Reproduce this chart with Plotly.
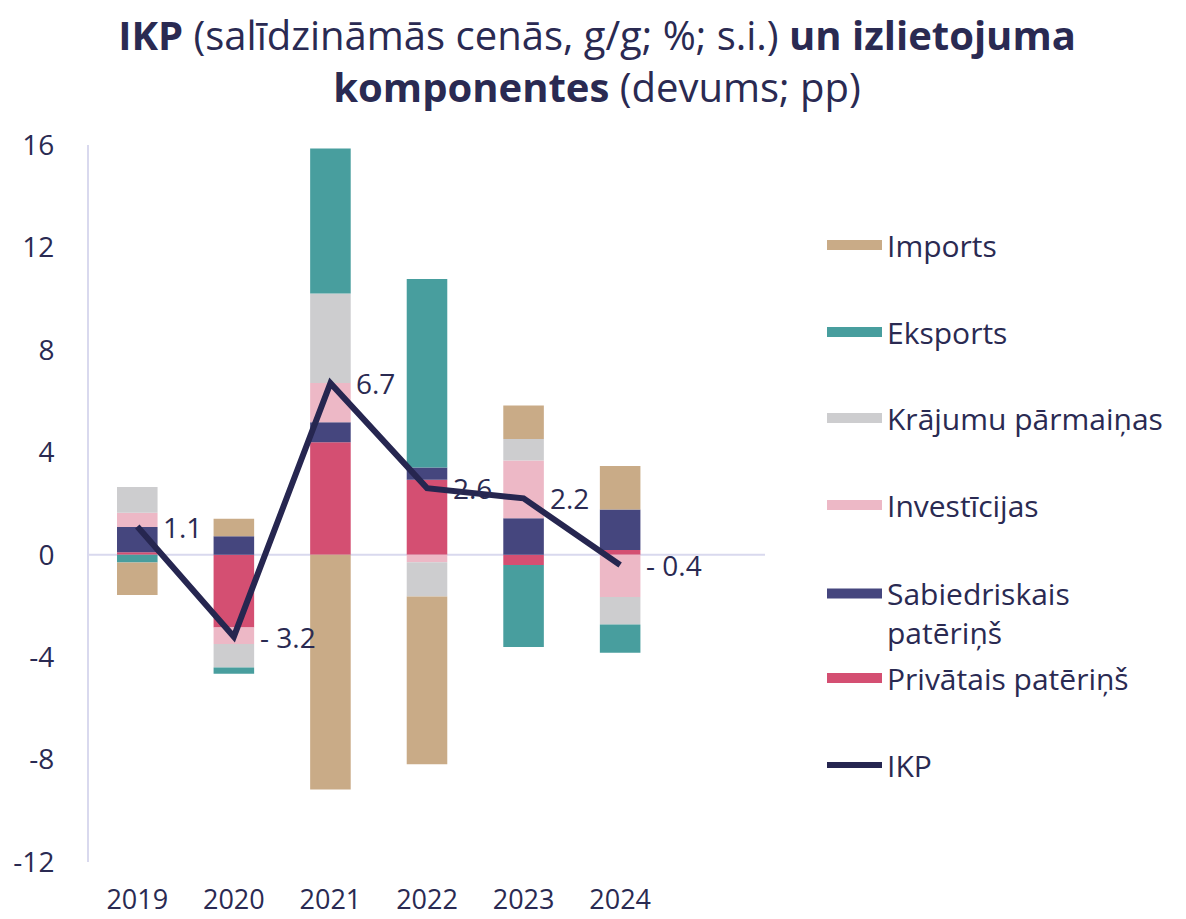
import plotly.graph_objects as go

years = [2019, 2020, 2021, 2022, 2023, 2024]
privatais = [0.1, -2.84, 4.39, 2.93, -0.4, 0.18]
sabiedriskais = [0.98, 0.72, 0.78, 0.48, 1.42, 1.59]
investicijas = [0.56, -0.65, 1.54, -0.29, 2.26, -1.65]
krajumu = [1.0, -0.91, 3.49, -1.34, 0.84, -1.08]
eksports = [-0.3, -0.25, 5.66, 7.36, -3.2, -1.1]
imports = [-1.27, 0.68, -9.17, -6.55, 1.31, 1.69]
ikp = [1.1, -3.2, 6.7, 2.6, 2.2, -0.4]
ikp_labels = ["1.1", "- 3.2", "6.7", "2.6", "2.2", "- 0.4"]

names = ["Privātais patēriņš", "Sabiedriskais<br>patēriņš", "Investīcijas",
         "Krājumu pārmaiņas", "Eksports", "Imports"]
series = [privatais, sabiedriskais, investicijas, krajumu, eksports, imports]
colors = ["#D44F72", "#45467E", "#EDB8C6", "#CDCDCF", "#489E9E", "#C9AB87"]

TXT = "#2A2A52"
FONT = "Open Sans"
W, H = 1178, 911   # page body has an 8px margin
OFF = 8

fig = go.Figure()
legend_ids = ["legend6", "legend5", "legend4", "legend3", "legend2", "legend"]
for name, vals, col in zip(names, series, colors):
    fig.add_trace(go.Bar(x=years, y=vals, name=name, marker_color=col,
                         marker_line_width=0, width=0.42, showlegend=False))

# legend proxies (wide rectangles)
for name, col, lg in zip(names, colors, legend_ids):
    fig.add_trace(go.Scatter(x=[None], y=[None], mode="lines", name=name,
                             line=dict(color=col, width=17), legend=lg,
                             showlegend=True, hoverinfo="skip"))

fig.add_trace(go.Scatter(x=years, y=ikp, mode="lines", name="IKP",
                         line=dict(color="#262650", width=6), showlegend=False))
fig.add_trace(go.Scatter(x=[None], y=[None], mode="lines", name="IKP",
                         line=dict(color="#262650", width=6), legend="legend7"))

for x, y, t in zip(years, ikp, ikp_labels):
    fig.add_annotation(x=x, y=y, text=t, showarrow=False, xanchor="left",
                       yanchor="middle", xshift=24,
                       font=dict(family=FONT, size=28, color=TXT))

leg_y = [245, 332, 418, 505, 613, 678, 765]
all_ids = ["legend", "legend2", "legend3", "legend4", "legend5", "legend6", "legend7"]
layout_legends = {}
for lg, py in zip(all_ids, leg_y):
    layout_legends[lg] = dict(x=814 / W, y=1 - (py - OFF) / H, xref="container",
                              yref="container", xanchor="left", yanchor="middle",
                              valign="top",
                              font=dict(family=FONT, size=30, color=TXT),
                              bgcolor="rgba(0,0,0,0)", itemwidth=55)

fig.update_layout(
    width=W, height=H,
    barmode="relative",
    plot_bgcolor="white", paper_bgcolor="white",
    margin=dict(l=89 - OFF, r=W - (765 - OFF), t=145 - OFF, b=H - (862 - OFF), autoexpand=False),
    font=dict(family=FONT, size=28, color=TXT),
    title=dict(text="<b>IKP</b> (salīdzināmās cenās, g/g; %; s.i.) <b>un izlietojuma</b><br><b>komponentes</b> (devums; pp)",
               x=0.5, xref="container", xanchor="center", y=1 - 42 / H, yanchor="middle",
               font=dict(family=FONT, size=40, color=TXT)),
    xaxis=dict(range=[2018.5, 2025.5], tickvals=years, ticktext=[str(y) for y in years],
               showgrid=False, zeroline=False, showline=False, ticks="", automargin=False,
               ticklabelstandoff=19, tickfont=dict(family=FONT, size=27, color=TXT)),
    yaxis=dict(range=[-12, 16], tickvals=[-12, -8, -4, 0, 4, 8, 12, 16],
               ticktext=["-12", "-8", "-4", "0", "4", "8", "12", "16"],
               showgrid=False, zeroline=False, showline=True, linecolor="#D9D9EE",
               linewidth=2, ticks="", ticklabelstandoff=27, automargin=False,
               tickfont=dict(family=FONT, size=28, color=TXT)),
    **layout_legends,
)
fig.add_shape(type="line", xref="x", yref="y", x0=2018.5, x1=2025.5, y0=0, y1=0,
              line=dict(color="#D9D9EE", width=2), layer="below")

fig.write_html("out.html")
